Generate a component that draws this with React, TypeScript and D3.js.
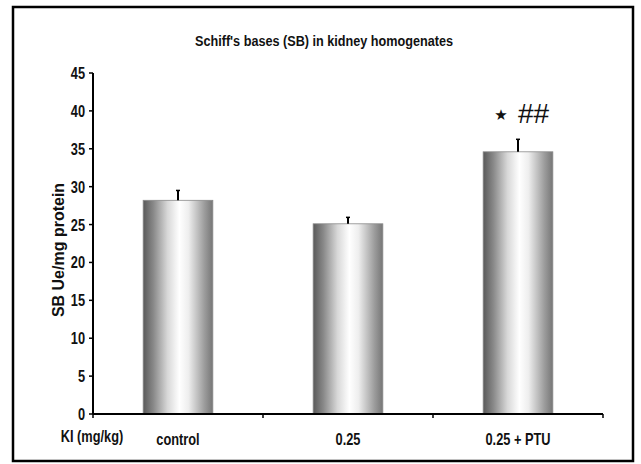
import React from "react";
import * as d3 from "d3";

const categories = ["control", "0.25", "0.25 + PTU"];
const values = [28.2, 25.1, 34.6];
const errors = [1.3, 0.85, 1.65];
const yTicks = [0, 5, 10, 15, 20, 25, 30, 35, 40, 45];
const title = "Schiff's bases (SB) in kidney homogenates";
const yLabel = "SB Ue/mg protein";
const xLabel = "KI (mg/kg)";
const starMarks = ["", "", "★"];
const hashMarks = ["", "", "##"];

const W = 641;
const H = 464;
const x0 = 93;
const x1 = 603;
const yTop = 73;
const yBot = 414;
const sans = "'Liberation Sans', Arial, sans-serif";

function NText(props: { x: number; y: number; anchor?: string; size: number; sx?: number; bold?: boolean; children: React.ReactNode }) {
  const { x, y, anchor = "middle", size, sx = 0.8, bold = true, children } = props;
  return (
    <text
      transform={`translate(${x},${y}) scale(${sx},1)`}
      textAnchor={anchor}
      fontSize={size}
      fontWeight={bold ? "bold" : "normal"}
      fontFamily={sans}
      fill="#111"
    >
      {children}
    </text>
  );
}

export default function App() {
  const x = d3.scaleBand<string>().domain(categories).range([x0, x1]).paddingInner(0).paddingOuter(0);
  const y = d3.scaleLinear().domain([0, 45]).range([yBot, yTop]);
  const bw = x.bandwidth() * 0.41;
  return (
    <svg width={W} height={H} style={{ position: "absolute", left: 0, top: 0, background: "#fff" }}>
      <defs>
        <linearGradient id="barGrad" x1="0" x2="1" y1="0" y2="0">
          <stop offset="0" stopColor="#595959" />
          <stop offset="0.15" stopColor="#8a8a8a" />
          <stop offset="0.35" stopColor="#d8d8d8" />
          <stop offset="0.52" stopColor="#ffffff" />
          <stop offset="0.65" stopColor="#eeeeee" />
          <stop offset="0.88" stopColor="#9c9c9c" />
          <stop offset="1" stopColor="#767676" />
        </linearGradient>
      </defs>
      <rect x={0} y={0} width={W} height={H} fill="#fff" />
      <rect x={13} y={7} width={620} height={454} fill="none" stroke="#000" strokeWidth={2.5} />
      <NText x={324} y={46} size={14} sx={1}>
        <tspan textLength={258} lengthAdjust="spacingAndGlyphs">{title}</tspan>
      </NText>
      {categories.map((c, i) => {
        const cx = (x(c) as number) + x.bandwidth() / 2;
        const top = y(values[i]);
        const et = y(values[i] + errors[i]);
        return (
          <g key={c}>
            <rect x={cx - bw / 2} y={top} width={bw} height={yBot - top} fill="url(#barGrad)" stroke="#8a8a8a" strokeWidth={0.8} />
            <line x1={cx} x2={cx} y1={top} y2={et} stroke="#000" strokeWidth={2} />
            <line x1={cx - 2} x2={cx + 2} y1={et} y2={et} stroke="#000" strokeWidth={1.5} />
            {starMarks[i] && (
              <text x={cx - 17} y={y(values[i] + errors[i]) - 19} textAnchor="middle" fontSize={15} fontFamily="'DejaVu Sans', sans-serif" fill="#111">{starMarks[i]}</text>
            )}
            {hashMarks[i] && (
              <text x={cx} y={y(values[i] + errors[i]) - 16} textAnchor="start" fontSize={28} fontFamily={sans} fill="#111">{hashMarks[i]}</text>
            )}
            <NText x={cx} y={445} size={16}>{c}</NText>
          </g>
        );
      })}
      <line x1={x0} x2={x0} y1={yTop} y2={yBot} stroke="#000" strokeWidth={2} />
      {yTicks.map((t) => (
        <g key={t}>
          <line x1={x0 - 4} x2={x0} y1={y(t)} y2={y(t)} stroke="#000" strokeWidth={1.5} />
          <NText x={x0 - 8} y={y(t) + 6} anchor="end" size={16}>{t}</NText>
        </g>
      ))}
      <line x1={x0} x2={x1} y1={yBot} y2={yBot} stroke="#000" strokeWidth={2} />
      {[...categories.map((c) => x(c) as number), x1].map((p, i) => (
        <line key={i} x1={p} x2={p} y1={yBot} y2={yBot + 4} stroke="#000" strokeWidth={1.5} />
      ))}
      <NText x={92} y={442} size={16}>{xLabel}</NText>
      <text transform={`translate(64,${250}) rotate(-90)`} textAnchor="middle" fontSize={16} fontWeight="bold" fill="#111" fontFamily={sans}>{yLabel}</text>
    </svg>
  );
}
